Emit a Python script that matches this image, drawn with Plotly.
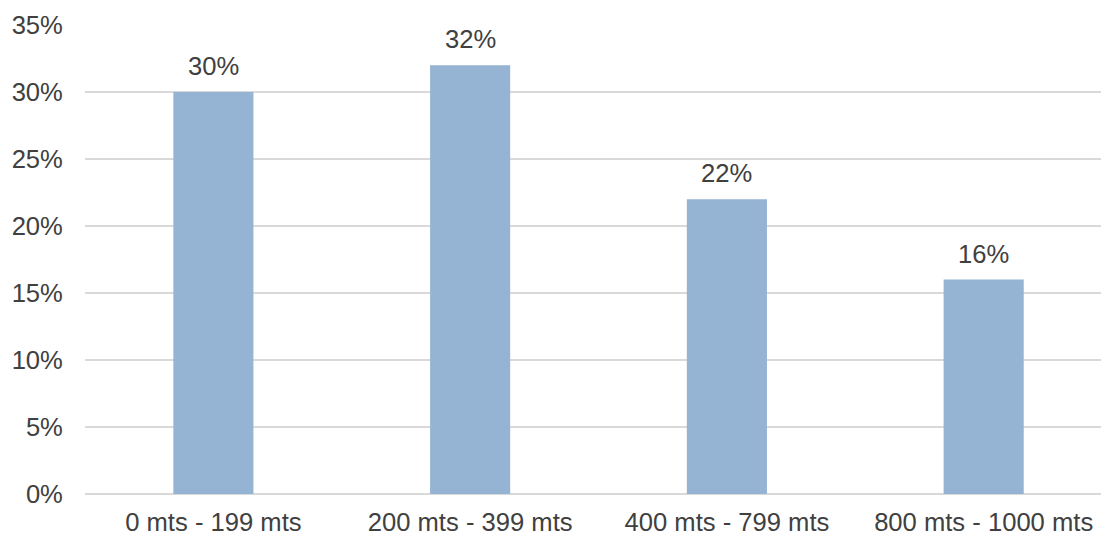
import plotly.graph_objects as go

categories = ["0 mts - 199 mts", "200 mts - 399 mts", "400 mts - 799 mts", "800 mts - 1000 mts"]
values = [0.30, 0.32, 0.22, 0.16]
labels = ["30%", "32%", "22%", "16%"]
tick_vals = [0, 0.05, 0.10, 0.15, 0.20, 0.25, 0.30, 0.35]
tick_text = ["0%", "5%", "10%", "15%", "20%", "25%", "30%", "35%"]

font_family = "Liberation Sans, Arial, sans-serif"
text_color = "#404040"
fsize = 25.6

fig = go.Figure(go.Bar(
    x=categories, y=values,
    marker=dict(color="#95B3D3", line=dict(width=0)),
    hoverinfo="skip",
))

for c, v, t in zip(categories, values, labels):
    fig.add_annotation(x=c, y=v, text=t, showarrow=False, yanchor="bottom",
                       yshift=10, font=dict(size=fsize, color=text_color, family=font_family))

fig.update_layout(
    width=1101, height=535,
    margin=dict(l=85, r=0, t=25, b=41, autoexpand=False),
    plot_bgcolor="white", paper_bgcolor="white",
    bargap=0.688,
    showlegend=False,
    font=dict(family=font_family, size=fsize, color=text_color),
    xaxis=dict(range=[-0.5, 3.457], showgrid=False, showline=False, zeroline=False,
               automargin=False,
               ticks="outside", ticklen=5, tickcolor="rgba(0,0,0,0)",
               tickfont=dict(size=fsize, color=text_color, family=font_family)),
    yaxis=dict(range=[0, 0.35], tickvals=tick_vals, ticktext=tick_text,
               automargin=False,
               showgrid=True, gridcolor="#d9d9d9", gridwidth=1.5,
               zeroline=True, zerolinecolor="#d9d9d9", zerolinewidth=1.5,
               showline=False, ticks="outside", ticklen=16, tickcolor="rgba(0,0,0,0)",
               tickfont=dict(size=fsize, color=text_color, family=font_family)),
)

fig.write_html("out.html", config={"displayModeBar": False},
               post_script="document.body.style.margin='0';document.body.style.overflow='hidden';")
